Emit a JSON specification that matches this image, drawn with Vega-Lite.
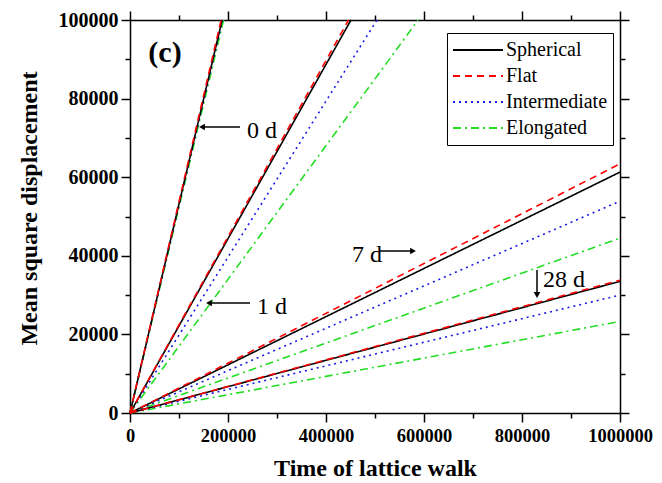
{
  "$schema": "https://vega.github.io/schema/vega-lite/v6.json",
  "width": 490,
  "height": 393,
  "autosize": "none",
  "padding": {"left": 130, "top": 20, "right": 42, "bottom": 70},
  "background": "white",
  "config": {
    "view": {"stroke": null},
    "axis": {
      "domainColor": "black",
      "domainWidth": 1.5,
      "tickColor": "black",
      "tickWidth": 1.5,
      "grid": false,
      "labelFont": "Liberation Serif",
      "labelFontWeight": "bold",
      "labelFontSize": 18.5,
      "labelColor": "black",
      "titleFont": "Liberation Serif",
      "titleFontWeight": "bold",
      "titleFontSize": 24,
      "titleColor": "black"
    },
    "legend": {
      "labelFont": "Liberation Serif",
      "labelFontSize": 20,
      "labelColor": "black"
    }
  },
  "datasets": {
    "msd": [
      {"shape": "Elongated", "day": "0 d", "t": 0, "msd": 0},
      {"shape": "Elongated", "day": "0 d", "t": 191000, "msd": 100000},
      {"shape": "Elongated", "day": "1 d", "t": 0, "msd": 0},
      {"shape": "Elongated", "day": "1 d", "t": 588000, "msd": 100000},
      {"shape": "Elongated", "day": "7 d", "t": 0, "msd": 0},
      {"shape": "Elongated", "day": "7 d", "t": 1000000, "msd": 44500},
      {"shape": "Elongated", "day": "28 d", "t": 0, "msd": 0},
      {"shape": "Elongated", "day": "28 d", "t": 1000000, "msd": 23300},
      {"shape": "Intermediate", "day": "0 d", "t": 0, "msd": 0},
      {"shape": "Intermediate", "day": "0 d", "t": 189000, "msd": 100000},
      {"shape": "Intermediate", "day": "1 d", "t": 0, "msd": 0},
      {"shape": "Intermediate", "day": "1 d", "t": 504000, "msd": 100000},
      {"shape": "Intermediate", "day": "7 d", "t": 0, "msd": 0},
      {"shape": "Intermediate", "day": "7 d", "t": 1000000, "msd": 53900},
      {"shape": "Intermediate", "day": "28 d", "t": 0, "msd": 0},
      {"shape": "Intermediate", "day": "28 d", "t": 1000000, "msd": 30000},
      {"shape": "Spherical", "day": "0 d", "t": 0, "msd": 0},
      {"shape": "Spherical", "day": "0 d", "t": 188000, "msd": 100000},
      {"shape": "Spherical", "day": "1 d", "t": 0, "msd": 0},
      {"shape": "Spherical", "day": "1 d", "t": 451000, "msd": 100000},
      {"shape": "Spherical", "day": "7 d", "t": 0, "msd": 0},
      {"shape": "Spherical", "day": "7 d", "t": 1000000, "msd": 61300},
      {"shape": "Spherical", "day": "28 d", "t": 0, "msd": 0},
      {"shape": "Spherical", "day": "28 d", "t": 1000000, "msd": 33500},
      {"shape": "Flat", "day": "0 d", "t": 0, "msd": 0},
      {"shape": "Flat", "day": "0 d", "t": 186000, "msd": 100000},
      {"shape": "Flat", "day": "1 d", "t": 0, "msd": 0},
      {"shape": "Flat", "day": "1 d", "t": 446000, "msd": 100000},
      {"shape": "Flat", "day": "7 d", "t": 0, "msd": 0},
      {"shape": "Flat", "day": "7 d", "t": 1000000, "msd": 63400},
      {"shape": "Flat", "day": "28 d", "t": 0, "msd": 0},
      {"shape": "Flat", "day": "28 d", "t": 1000000, "msd": 33800}
    ],
    "arrows": [
      {"label": "0 d", "dir": "left", "tx": 224500, "ty": 72770, "hx": 146900, "hy": 72770},
      {"label": "1 d", "dir": "left", "tx": 244900, "ty": 27990, "hx": 161200, "hy": 27990},
      {"label": "7 d", "dir": "right", "tx": 510200, "ty": 41220, "hx": 577600, "hy": 41220},
      {"label": "28 d", "dir": "down", "tx": 830600, "ty": 36390, "hx": 830600, "hy": 30030}
    ],
    "labels": [
      {"text": "0 d", "x": 238800, "y": 71760},
      {"text": "1 d", "x": 259200, "y": 26970},
      {"text": "7 d", "x": 453100, "y": 40200},
      {"text": "28 d", "x": 842900, "y": 33840}
    ],
    "panel": [
      {"text": "(c)", "x": 71400, "y": 91600}
    ]
  },
  "layer": [
    {
      "data": {"name": "msd"},
      "mark": {"type": "line", "strokeWidth": 1.6},
      "encoding": {
        "x": {
          "field": "t",
          "type": "quantitative",
          "scale": {"domain": [0, 1000000], "nice": false, "zero": false},
          "title": "Time of lattice walk",
          "axis": {
            "orient": "bottom",
            "values": [0, 100000, 200000, 300000, 400000, 500000, 600000, 700000, 800000, 900000, 1000000],
            "labelExpr": "datum.value % 200000 === 0 ? format(datum.value, 'd') : ''",
            "tickSize": {"condition": {"test": "datum.value % 200000 === 0", "value": 9}, "value": 5},
            "labelPadding": 4,
            "labelFlush": false,
            "titlePadding": 12
          }
        },
        "y": {
          "field": "msd",
          "type": "quantitative",
          "scale": {"domain": [0, 100000], "nice": false, "zero": false},
          "title": "Mean square displacement",
          "axis": {
            "orient": "left",
            "values": [0, 10000, 20000, 30000, 40000, 50000, 60000, 70000, 80000, 90000, 100000],
            "labelExpr": "datum.value % 20000 === 0 ? format(datum.value, 'd') : ''",
            "tickSize": {"condition": {"test": "datum.value % 20000 === 0", "value": 9}, "value": 5},
            "labelPadding": 3,
            "labelFontSize": 20,
            "labelFlush": false,
            "titlePadding": 17,
            "titleY": 188
          }
        },
        "color": {
          "field": "shape",
          "type": "nominal",
          "scale": {
            "domain": ["Spherical", "Flat", "Intermediate", "Elongated"],
            "range": ["#000000", "#ff0000", "#1a1ae6", "#22dd22"]
          },
          "legend": {
            "title": null,
            "orient": "none",
            "legendX": 317,
            "legendY": 13,
            "strokeColor": "black",
            "padding": 5,
            "symbolType": "stroke",
            "symbolSize": 2500,
            "symbolStrokeWidth": 2,
            "clipHeight": 24,
            "labelOffset": 2
          }
        },
        "strokeDash": {
          "field": "shape",
          "type": "nominal",
          "scale": {
            "domain": ["Spherical", "Flat", "Intermediate", "Elongated"],
            "range": [[1, 0], [7, 5], [2, 4], [8, 4, 2, 4]]
          },
          "legend": null
        },
        "detail": {"field": "day"}
      }
    },
    {
      "data": {"name": "arrows"},
      "mark": {"type": "rule", "color": "black", "strokeWidth": 1.5},
      "encoding": {
        "x": {
          "field": "tx",
          "type": "quantitative",
          "title": null,
          "axis": {
            "orient": "top",
            "values": [0, 100000, 200000, 300000, 400000, 500000, 600000, 700000, 800000, 900000, 1000000],
            "labels": false,
            "tickSize": {"condition": {"test": "datum.value % 200000 === 0", "value": 9}, "value": 5}
          }
        },
        "y": {
          "field": "ty",
          "type": "quantitative",
          "title": null,
          "axis": {
            "orient": "right",
            "values": [0, 10000, 20000, 30000, 40000, 50000, 60000, 70000, 80000, 90000, 100000],
            "labels": false,
            "tickSize": {"condition": {"test": "datum.value % 20000 === 0", "value": 9}, "value": 5}
          }
        },
        "x2": {"field": "hx"},
        "y2": {"field": "hy"}
      }
    },
    {
      "data": {"name": "arrows"},
      "mark": {"type": "point", "filled": true, "color": "black", "opacity": 1, "size": 45},
      "encoding": {
        "x": {"field": "hx", "type": "quantitative", "axis": null},
        "y": {"field": "hy", "type": "quantitative", "axis": null},
        "shape": {
          "field": "dir",
          "type": "nominal",
          "scale": {"domain": ["left", "right", "down"], "range": ["triangle-left", "triangle-right", "triangle-down"]},
          "legend": null
        }
      }
    },
    {
      "data": {"name": "labels"},
      "mark": {"type": "text", "align": "left", "baseline": "middle", "font": "Liberation Serif", "fontSize": 24, "color": "black"},
      "encoding": {
        "x": {"field": "x", "type": "quantitative", "axis": null},
        "y": {"field": "y", "type": "quantitative", "axis": null},
        "text": {"field": "text"}
      }
    },
    {
      "data": {"name": "panel"},
      "mark": {"type": "text", "align": "center", "baseline": "middle", "font": "Liberation Serif", "fontSize": 30, "fontWeight": "bold", "color": "black"},
      "encoding": {
        "x": {"field": "x", "type": "quantitative", "axis": null},
        "y": {"field": "y", "type": "quantitative", "axis": null},
        "text": {"field": "text"}
      }
    }
  ],
  "resolve": {"axis": {"x": "independent", "y": "independent"}}
}
